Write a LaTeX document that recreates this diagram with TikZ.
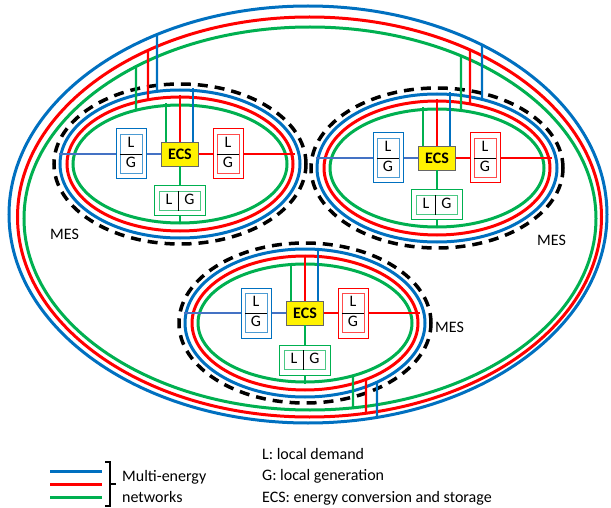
\documentclass[tikz,border=0pt]{standalone}
\usepackage{fontspec}
\setmainfont{Carlito}
\usetikzlibrary{shapes.geometric,intersections}

\definecolor{netblue}{HTML}{0070C0}
\definecolor{netred}{HTML}{FF0000}
\definecolor{netgreen}{HTML}{00B050}
\definecolor{linkblue}{HTML}{4472C4}
\renewcommand{\arraystretch}{1.0}

\begin{document}
\begin{tikzpicture}[x=1pt,y=-1pt,
    every node/.style={font=\fontsize{16}{19.5}\selectfont},
    ring/.style={ellipse, draw=#1, line width=3pt, inner sep=0pt},
    link/.style={draw=#1, line width=2.2pt},
    mesring/.style={ellipse, draw=black, line width=3.5pt, dash pattern=on 10pt off 7pt,
                    inner sep=0pt, minimum width=252, minimum height=160},
    ecsbox/.style={draw=black!60, fill=yellow, minimum width=37, minimum height=24,
                   inner sep=0pt, font=\fontsize{16}{19.5}\selectfont\bfseries},
    lgbox/.style={draw=#1, fill=white, line width=1pt, inner sep=0pt},
    lgin/.style={draw=#1!70, line width=0.8pt, inner sep=0pt},
    keytext/.style={anchor=base west, inner sep=0pt}]

  \useasboundingbox (0,0) rectangle (611,508);

  % outer networks
  \draw[netblue, line width=3pt, name path global=outB] (308,214.5) ellipse [x radius=299, y radius=208.5];
  \draw[netred, line width=3pt, name path global=outR] (309.5,217) ellipse [x radius=292, y radius=200];
  \draw[netgreen, line width=3pt, name path global=outG] (310,218.5) ellipse [x radius=286, y radius=191.5];

  % the three MES
  \foreach \m/\cx/\cy/\lx/\ly in {A/180/164/50/240, B/437/168/537/245, C/305/323/435/332} {
    \node[mesring] (\m-mes) at (\cx,\cy) {};
    \node[ring=netblue, minimum width=240, minimum height=148, name path global=\m-b] (\m-b) at (\cx,\cy) {};
    \node[ring=netred, minimum width=226, minimum height=134, name path global=\m-r] (\m-r) at (\cx,\cy) {};
    \node[ring=netgreen, minimum width=214, minimum height=118, name path global=\m-g] (\m-g) at (\cx,\cy) {};
    \node[keytext] (\m-lab) at (\lx,\ly) {MES};

    \node[ecsbox] (\m-ecs) at (\cx,{\cy-10}) {ECS};
    \node[lgbox=netblue, minimum width=30, minimum height=50] (\m-lb) at ({\cx-49},{\cy-10}) {};
    \node[lgin=netblue] (\m-lbi) at (\m-lb) {\begin{tabular}{c}L\\\hline G\end{tabular}};
    \node[lgbox=netred, minimum width=30, minimum height=50] (\m-lr) at ({\cx+48},{\cy-10}) {};
    \node[lgin=netred] (\m-lri) at (\m-lr) {\begin{tabular}{c}L\\\hline G\end{tabular}};
    \node[lgbox=netgreen, minimum width=51, minimum height=30] (\m-lg) at (\cx,{\cy+37}) {};
    \node[lgin=netgreen] (\m-lgi) at (\m-lg) {\begin{tabular}{c|c}L&G\end{tabular}};

    \draw[link=linkblue] (\m-b.west |- \m-ecs) -- (\m-lb.west);
    \draw[link=linkblue] (\m-lb.east) -- (\m-ecs.west);
    \draw[link=netred] (\m-ecs.east) -- (\m-lr.west);
    \draw[link=netred] (\m-lr.east) -- (\m-r.east |- \m-ecs);
    \draw[link=netgreen] (\m-ecs.south) -- (\m-lg.north);
    \draw[link=netgreen] (\m-lg.south) -- (\m-g.south);
    \draw[link=netgreen] ([xshift=-14pt]\m-ecs.north) -- ([xshift=-14pt]\m-g.north);
    \draw[link=netred] (\m-ecs.north) -- (\m-r.north);
    \draw[link=netblue] ([xshift=13pt]\m-ecs.north) -- ([xshift=13pt]\m-b.north);
  }

  % ties from each MES to the outer networks
  \foreach \m/\c/\o/\col/\dx/\s in {A/g/G/netgreen/-44/1, A/r/R/netred/-32/1, A/b/B/netblue/-23/1,
                                    B/g/G/netgreen/24/1, B/r/R/netred/33/1, B/b/B/netblue/45/1,
                                    C/g/G/netgreen/48/2, C/r/R/netred/61/2, C/b/B/netblue/72/2} {
    \path[name path=vert] ([xshift=\dx pt]\m-mes.center) ++(0,-400) -- ++(0,800);
    \path[name intersections={of=vert and \m-\c, sort by=vert, by={\m\c-in1,\m\c-in2}}];
    \path[name intersections={of=vert and out\o, sort by=vert, by={\m\c-out1,\m\c-out2}}];
    \draw[link=\col] (\m\c-in\s) -- (\m\c-out\s);
  }

  % legend
  \coordinate (kb1) at (50,471);  \coordinate (kb2) at (102,471);
  \coordinate (kr1) at (50,484);  \coordinate (kr2) at (102,484);
  \coordinate (kg1) at (50,497);  \coordinate (kg2) at (102,497);
  \draw[link=netblue, line width=3pt] (kb1) -- (kb2);
  \draw[link=netred, line width=3pt] (kr1) -- (kr2);
  \draw[link=netgreen, line width=3pt] (kg1) -- (kg2);
  \draw[line width=1.3pt] (105,462) -| (110,506) -- (105,506) (110,484) -- (116,484);
  \node[keytext] (net1) at (122,481) {Multi-energy};
  \node[keytext] (net2) at (122,502) {networks};
  \node[keytext] (keyL) at (262,459) {L: local demand};
  \node[keytext] (keyG) at (262,480.5) {G: local generation};
  \node[keytext] (keyE) at (262,502) {ECS: energy conversion and storage};

\end{tikzpicture}
\end{document}
